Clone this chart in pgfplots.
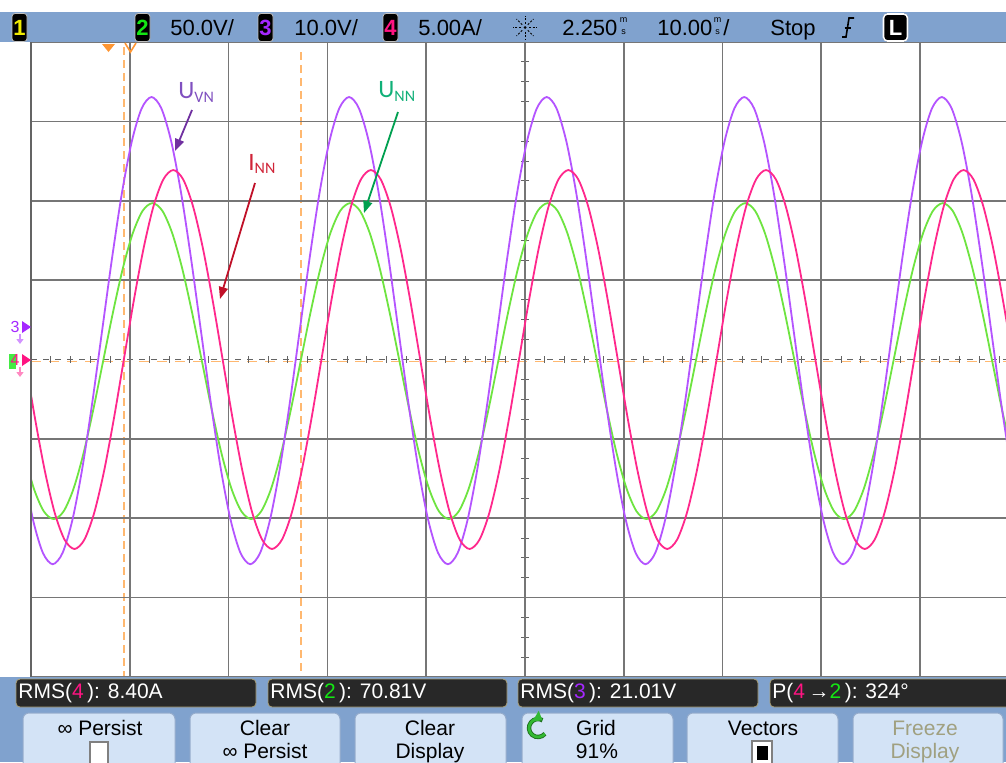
\documentclass[border=0pt]{standalone}
\usepackage{pgfplots}
\pgfplotsset{compat=1.18}
\usepackage{fontspec}
\setmainfont{Liberation Sans}
\newfontfamily\calib{Carlito}
\usetikzlibrary{arrows.meta}
\definecolor{barblue}{RGB}{128,162,206}
\definecolor{btnfill}{RGB}{211,227,246}
\definecolor{btnedge}{RGB}{150,172,204}
\definecolor{boxdark}{RGB}{40,40,40}
\definecolor{boxedge}{RGB}{170,160,120}
\definecolor{trpurple}{RGB}{180,84,255}
\definecolor{trgreen}{RGB}{110,228,64}
\definecolor{trpink}{RGB}{255,40,140}
\definecolor{cursor}{RGB}{255,184,112}
\definecolor{cursordark}{RGB}{255,150,50}
\definecolor{gridgray}{RGB}{118,118,118}
\definecolor{centergray}{RGB}{100,100,100}
\definecolor{chone}{RGB}{240,235,0}
\definecolor{chtwo}{RGB}{20,230,20}
\definecolor{chthree}{RGB}{165,40,255}
\definecolor{chfour}{RGB}{255,20,130}
\definecolor{lblpurple}{RGB}{128,80,192}
\definecolor{arrpurple}{RGB}{112,48,160}
\definecolor{lblred}{RGB}{208,36,56}
\definecolor{arrred}{RGB}{192,16,40}
\definecolor{lblgreen}{RGB}{16,176,120}
\definecolor{arrgreen}{RGB}{0,160,80}
\definecolor{freezegray}{RGB}{160,160,128}
\definecolor{icongreen}{RGB}{50,185,50}
\newcommand\bt{\fontsize{11pt}{13pt}\selectfont}
\newcommand\rt{\fontsize{10.5pt}{12pt}\selectfont}
\newcommand\tn{\fontsize{4.5pt}{5pt}\selectfont}
\begin{document}
\begin{tikzpicture}[x=0.5pt,y=-0.5pt]
\useasboundingbox (0,0) rectangle (1006,762);
\clip (0,0) rectangle (1006,762);
\fill[white] (0,0) rectangle (1006,762);
% centre lines
\draw[centergray, line width=0.6pt, dash pattern=on 3pt off 3pt] (31,359.5) -- (1006,359.5);
\draw[cursor, line width=0.9pt, dash pattern=on 5pt off 4pt] (31,361.5) -- (1006,361.5);
\foreach \i in {1,...,49} \draw[centergray, line width=0.5pt] ({31+19.756*\i},356) -- ({31+19.756*\i},363);
\foreach \j in {1,...,31} \draw[centergray, line width=0.5pt] (521,{42+19.844*\j}) -- (529,{42+19.844*\j});
% cursors
\draw[cursor, line width=1pt, dash pattern=on 4pt off 2.5pt] (123.5,47) -- (123.5,677);
\draw[cursor, line width=1pt, dash pattern=on 4pt off 2.5pt] (300.5,52) -- (300.5,677);
\begin{scope}[x=1cm,y=1cm]
\begin{axis}[at={(15.5pt,-338.5pt)}, anchor=south west, scale only axis,
  width=487.5pt, height=317.5pt,
  xmin=0, xmax=98.7, ymin=-4, ymax=4,
  axis line style={draw=none},
  xtick={0,10,...,90}, ytick={-4,-3,-2,-1,1,2,3,4},
  xticklabels={}, yticklabels={}, major tick length=0pt, tick style={draw=none},
  grid=major, major grid style={gridgray, line width=0.85pt}]
% channel 2 (U_NN)
\addplot[trgreen, line width=0.9pt, smooth] coordinates {
(-0.7,-1.190)
(0.3,-1.630)(1.3,-1.913)(2.3,-2.010)(3.3,-1.913)(4.3,-1.630)(5.3,-1.190)(6.3,-0.635)(7.3,-0.020)(8.3,0.595)(9.3,1.150)
(10.3,1.590)(11.3,1.873)(12.3,1.970)(13.3,1.873)(14.3,1.590)(15.3,1.150)(16.3,0.595)(17.3,-0.020)(18.3,-0.635)(19.3,-1.190)
(20.3,-1.630)(21.3,-1.913)(22.3,-2.010)(23.3,-1.913)(24.3,-1.630)(25.3,-1.190)(26.3,-0.635)(27.3,-0.020)(28.3,0.595)(29.3,1.150)
(30.3,1.590)(31.3,1.873)(32.3,1.970)(33.3,1.873)(34.3,1.590)(35.3,1.150)(36.3,0.595)(37.3,-0.020)(38.3,-0.635)(39.3,-1.190)
(40.3,-1.630)(41.3,-1.913)(42.3,-2.010)(43.3,-1.913)(44.3,-1.630)(45.3,-1.190)(46.3,-0.635)(47.3,-0.020)(48.3,0.595)(49.3,1.150)
(50.3,1.590)(51.3,1.873)(52.3,1.970)(53.3,1.873)(54.3,1.590)(55.3,1.150)(56.3,0.595)(57.3,-0.020)(58.3,-0.635)(59.3,-1.190)
(60.3,-1.630)(61.3,-1.913)(62.3,-2.010)(63.3,-1.913)(64.3,-1.630)(65.3,-1.190)(66.3,-0.635)(67.3,-0.020)(68.3,0.595)(69.3,1.150)
(70.3,1.590)(71.3,1.873)(72.3,1.970)(73.3,1.873)(74.3,1.590)(75.3,1.150)(76.3,0.595)(77.3,-0.020)(78.3,-0.635)(79.3,-1.190)
(80.3,-1.630)(81.3,-1.913)(82.3,-2.010)(83.3,-1.913)(84.3,-1.630)(85.3,-1.190)(86.3,-0.635)(87.3,-0.020)(88.3,0.595)(89.3,1.150)
(90.3,1.590)(91.3,1.873)(92.3,1.970)(93.3,1.873)(94.3,1.590)(95.3,1.150)(96.3,0.595)(97.3,-0.020)(98.3,-0.635)(99.3,-1.190)
};
% channel 3 (U_VN)
\addplot[trpurple, line width=0.9pt, smooth] coordinates {
(-0.8,-1.366)
(0.2,-2.017)(1.2,-2.435)(2.2,-2.579)(3.2,-2.435)(4.2,-2.017)(5.2,-1.366)(6.2,-0.545)(7.2,0.364)(8.2,1.273)(9.2,2.094)
(10.2,2.745)(11.2,3.163)(12.2,3.307)(13.2,3.163)(14.2,2.745)(15.2,2.094)(16.2,1.273)(17.2,0.364)(18.2,-0.545)(19.2,-1.366)
(20.2,-2.017)(21.2,-2.435)(22.2,-2.579)(23.2,-2.435)(24.2,-2.017)(25.2,-1.366)(26.2,-0.545)(27.2,0.364)(28.2,1.273)(29.2,2.094)
(30.2,2.745)(31.2,3.163)(32.2,3.307)(33.2,3.163)(34.2,2.745)(35.2,2.094)(36.2,1.273)(37.2,0.364)(38.2,-0.545)(39.2,-1.366)
(40.2,-2.017)(41.2,-2.435)(42.2,-2.579)(43.2,-2.435)(44.2,-2.017)(45.2,-1.366)(46.2,-0.545)(47.2,0.364)(48.2,1.273)(49.2,2.094)
(50.2,2.745)(51.2,3.163)(52.2,3.307)(53.2,3.163)(54.2,2.745)(55.2,2.094)(56.2,1.273)(57.2,0.364)(58.2,-0.545)(59.2,-1.366)
(60.2,-2.017)(61.2,-2.435)(62.2,-2.579)(63.2,-2.435)(64.2,-2.017)(65.2,-1.366)(66.2,-0.545)(67.2,0.364)(68.2,1.273)(69.2,2.094)
(70.2,2.745)(71.2,3.163)(72.2,3.307)(73.2,3.163)(74.2,2.745)(75.2,2.094)(76.2,1.273)(77.2,0.364)(78.2,-0.545)(79.2,-1.366)
(80.2,-2.017)(81.2,-2.435)(82.2,-2.579)(83.2,-2.435)(84.2,-2.017)(85.2,-1.366)(86.2,-0.545)(87.2,0.364)(88.2,1.273)(89.2,2.094)
(90.2,2.745)(91.2,3.163)(92.2,3.307)(93.2,3.163)(94.2,2.745)(95.2,2.094)(96.2,1.273)(97.2,0.364)(98.2,-0.545)(99.2,-1.366)
};
% channel 4 (I_NN)
\addplot[trpink, line width=0.9pt, smooth] coordinates {
(-0.6,0)
(0.4,-0.738)(1.4,-1.403)(2.4,-1.931)(3.4,-2.270)(4.4,-2.387)(5.4,-2.270)(6.4,-1.931)(7.4,-1.403)(8.4,-0.738)(9.4,0)
(10.4,0.738)(11.4,1.403)(12.4,1.931)(13.4,2.270)(14.4,2.387)(15.4,2.270)(16.4,1.931)(17.4,1.403)(18.4,0.738)(19.4,0)
(20.4,-0.738)(21.4,-1.403)(22.4,-1.931)(23.4,-2.270)(24.4,-2.387)(25.4,-2.270)(26.4,-1.931)(27.4,-1.403)(28.4,-0.738)(29.4,0)
(30.4,0.738)(31.4,1.403)(32.4,1.931)(33.4,2.270)(34.4,2.387)(35.4,2.270)(36.4,1.931)(37.4,1.403)(38.4,0.738)(39.4,0)
(40.4,-0.738)(41.4,-1.403)(42.4,-1.931)(43.4,-2.270)(44.4,-2.387)(45.4,-2.270)(46.4,-1.931)(47.4,-1.403)(48.4,-0.738)(49.4,0)
(50.4,0.738)(51.4,1.403)(52.4,1.931)(53.4,2.270)(54.4,2.387)(55.4,2.270)(56.4,1.931)(57.4,1.403)(58.4,0.738)(59.4,0)
(60.4,-0.738)(61.4,-1.403)(62.4,-1.931)(63.4,-2.270)(64.4,-2.387)(65.4,-2.270)(66.4,-1.931)(67.4,-1.403)(68.4,-0.738)(69.4,0)
(70.4,0.738)(71.4,1.403)(72.4,1.931)(73.4,2.270)(74.4,2.387)(75.4,2.270)(76.4,1.931)(77.4,1.403)(78.4,0.738)(79.4,0)
(80.4,-0.738)(81.4,-1.403)(82.4,-1.931)(83.4,-2.270)(84.4,-2.387)(85.4,-2.270)(86.4,-1.931)(87.4,-1.403)(88.4,-0.738)(89.4,0)
(90.4,0.738)(91.4,1.403)(92.4,1.931)(93.4,2.270)(94.4,2.387)(95.4,2.270)(96.4,1.931)(97.4,1.403)(98.4,0.738)(99.4,0)
};
\end{axis}
\end{scope}
% left border
\draw[gridgray!85!black, line width=1pt] (31,42) -- (31,677);
% top markers
\fill[cursordark] (102,44) -- (115,44) -- (108.5,52) -- cycle;
\draw[cursordark, line width=0.8pt] (125,43) -- (130.5,52) -- (136,43);
% left channel markers
\fill[chtwo!80] (9,354) rectangle (16,369);
\node[text=chthree, inner sep=0, font=\fontsize{8pt}{9pt}\selectfont] at (15,327) {3};
\fill[chthree] (22,321) -- (31,327) -- (22,333) -- cycle;
\draw[chthree!50, line width=0.6pt, -{Triangle[length=2.5pt,width=3.5pt]}] (20,334) -- (20,344);
\node[text=chfour, inner sep=0, font=\fontsize{8pt}{9pt}\selectfont] at (15,360) {4};
\fill[chfour] (22,354) -- (31,360) -- (22,366) -- cycle;
\draw[chfour!50, line width=0.6pt, -{Triangle[length=2.5pt,width=3.5pt]}] (20,367) -- (20,377);
% annotations
\node[anchor=base west, inner sep=0, text=lblpurple] at (178,98) {\calib\fontsize{12.5pt}{14pt}\selectfont U\raisebox{-2pt}{\fontsize{8pt}{9pt}\selectfont VN}};
\draw[arrpurple, line width=0.9pt, -{Triangle[length=6pt,width=4.5pt]}] (192,110) -- (175,151);
\node[anchor=base west, inner sep=0, text=lblred] at (248,170) {\calib\fontsize{12.5pt}{14pt}\selectfont I\raisebox{-1.5pt}{\fontsize{8pt}{9pt}\selectfont NN}};
\draw[arrred, line width=0.9pt, -{Triangle[length=6pt,width=4.5pt]}] (255,183) -- (220,299);
\node[anchor=base west, inner sep=0, text=lblgreen] at (378,97) {\calib\fontsize{12.5pt}{14pt}\selectfont U\raisebox{-2pt}{\fontsize{8pt}{9pt}\selectfont NN}};
\draw[arrgreen, line width=0.9pt, -{Triangle[length=6pt,width=4.5pt]}] (398,112) -- (364,213);
% top bar
\fill[barblue] (0,12) rectangle (1006,42);
\foreach \xa/\col/\num in {12/chone/1, 135/chtwo/2, 258/chthree/3, 383/chfour/4} {
  \fill[black, rounded corners=1.5pt] (\xa,13.5) rectangle ({\xa+15},41.5);
  \draw[gray!50, line width=0.4pt, rounded corners=1.5pt] (\xa,13.5) rectangle ({\xa+15},41.5);
  \node[text=\col, inner sep=0, font=\bt\bfseries] at ({\xa+7.5},27.5) {\num};
}
\node[anchor=base west, inner sep=0, font=\bt] at (170,35) {50.0V/};
\node[anchor=base west, inner sep=0, font=\bt] at (294,35) {10.0V/};
\node[anchor=base west, inner sep=0, font=\bt] at (418,35) {5.00A/};
\foreach \a in {0,45,...,315} \draw[black, line width=0.5pt, dash pattern=on 1pt off 0.8pt] (525,27.5) ++(\a:4) -- ++(\a:8);
\fill[black] (525,27.5) circle (1.5);
\node[anchor=base west, inner sep=0, font=\bt] at (562,35) {2.250};
\node[anchor=base, inner sep=0, font=\tn] at (623.5,22.5) {m};
\node[anchor=base, inner sep=0, font=\tn] at (623.5,34.5) {s};
\node[anchor=base west, inner sep=0, font=\bt] at (657,35) {10.00};
\node[anchor=base, inner sep=0, font=\tn] at (717.5,22.5) {m};
\node[anchor=base, inner sep=0, font=\tn] at (717.5,34.5) {s};
\node[anchor=base west, inner sep=0, font=\bt] at (723,35) {/};
\node[anchor=base west, inner sep=0, font=\bt] at (770,35) {Stop};
\draw[black, line width=0.8pt] (842,37) -- (846,37) -- (849,18) -- (854,18);
\draw[black, line width=0.8pt] (844.5,28) -- (851,28);
\fill[black, rounded corners=2pt] (883,13.5) rectangle (908,41.5);
\draw[white, line width=0.8pt, rounded corners=2pt] (883.5,14) rectangle (907.5,41);
\node[text=white, inner sep=0, font=\bt\bfseries] at (895.5,27.5) {L};
% RMS bar
\fill[barblue] (0,677) rectangle (1006,712);
\foreach \xa/\xb in {16/256, 268/507, 518/758, 770/1020} {
  \fill[boxdark, rounded corners=2pt] (\xa,679) rectangle (\xb,707);
  \draw[boxedge, line width=0.4pt, rounded corners=2pt] (\xa,679) rectangle (\xb,707);
}
\node[anchor=base west, inner sep=0, font=\rt, text=white] at (18,698) {RMS(\textcolor{chfour}{4}\,): 8.40A};
\node[anchor=base west, inner sep=0, font=\rt, text=white] at (270,698) {RMS(\textcolor{chtwo}{2}\,): 70.81V};
\node[anchor=base west, inner sep=0, font=\rt, text=white] at (520,698) {RMS(\textcolor{chthree}{3}\,): 21.01V};
\node[anchor=base west, inner sep=0, font=\rt, text=white] at (772,698) {P(\textcolor{chfour}{4}\,→\textcolor{chtwo}{2}\,): 324°};
% buttons
\fill[barblue] (0,712) rectangle (1006,762);
\foreach \xa/\xb in {23/175, 190/340, 355/506, 522/673, 687/838, 853/1003} {
  \fill[btnfill, rounded corners=3pt] (\xa,713) rectangle (\xb,780);
  \draw[btnedge, line width=0.5pt, rounded corners=3pt] (\xa,713) rectangle (\xb,780);
}
\node[anchor=base, inner sep=0, font=\rt] at (100,735) {∞ Persist};
\draw[fill=white, draw=gray, line width=0.6pt] (90,742) rectangle (108,772);
\node[anchor=base, inner sep=0, font=\rt] at (265,735) {Clear};
\node[anchor=base, inner sep=0, font=\rt] at (265,758) {∞ Persist};
\node[anchor=base, inner sep=0, font=\rt] at (430,735) {Clear};
\node[anchor=base, inner sep=0, font=\rt] at (430,758) {Display};
\draw[icongreen!60!black, line width=2.2pt] (538,728) ++(40:9) arc[start angle=40, end angle=300, radius=9];
\draw[icongreen, line width=1.3pt, -{Triangle[length=4pt,width=6pt]}] (538,728) ++(40:9) arc[start angle=40, end angle=300, radius=9];
\node[anchor=base, inner sep=0, font=\rt] at (596,735) {Grid};
\node[anchor=base, inner sep=0, font=\rt] at (597,758) {91\%};
\node[anchor=base, inner sep=0, font=\rt] at (763,735) {Vectors};
\draw[fill=white, draw=gray, line width=0.6pt] (752,741) rectangle (772,772);
\fill[black] (757,746) rectangle (768,760);
\node[anchor=base, inner sep=0, font=\rt, text=freezegray] at (925,735) {Freeze};
\node[anchor=base, inner sep=0, font=\rt, text=freezegray] at (925,758) {Display};
\end{tikzpicture}
\end{document}
